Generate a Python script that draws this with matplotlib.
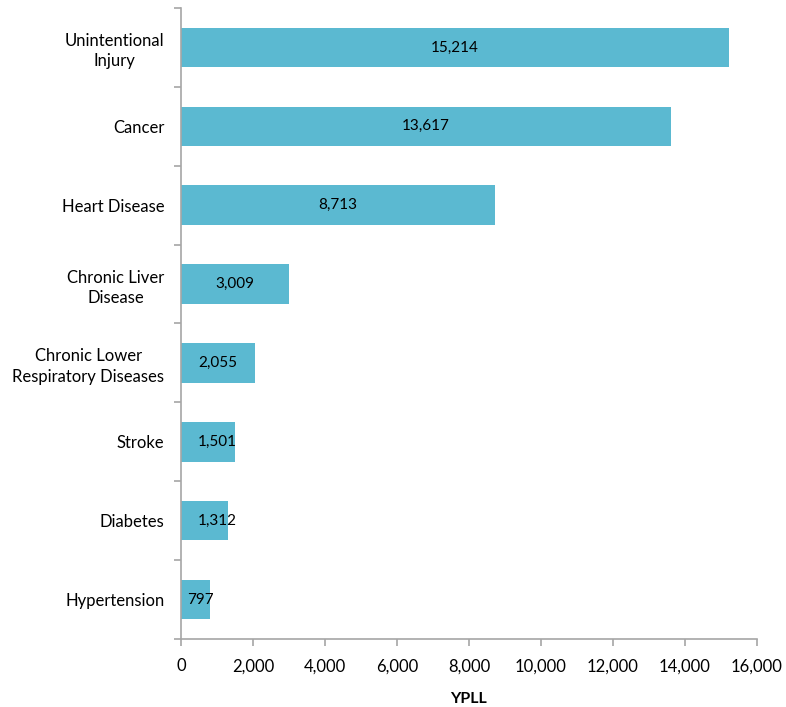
import matplotlib
matplotlib.use("Agg")
import matplotlib.pyplot as plt
import numpy as np
from matplotlib.ticker import FuncFormatter, FixedLocator

# Years of potential life lost by leading cause of death
CAUSES = [
    "Unintentional\nInjury",
    "Cancer",
    "Heart Disease",
    "Chronic Liver\nDisease",
    "Chronic Lower\nRespiratory Diseases",
    "Stroke",
    "Diabetes",
    "Hypertension",
]
YPLL = [15214, 13617, 8713, 3009, 2055, 1501, 1312, 797]
X_TICKS = [0, 2000, 4000, 6000, 8000, 10000, 12000, 14000, 16000]

BAR_COLOR = "#5BB9D1"
AXIS_COLOR = "#A6A6A6"

plt.rcParams["font.family"] = ["Lato", "DejaVu Sans"]

fig = plt.figure(figsize=(7.86, 7.07), dpi=100)
ax = fig.add_axes([0.2303, 0.0962, 0.7327, 0.8925])

pos = np.arange(len(CAUSES))
ax.barh(pos, YPLL, height=0.5, color=BAR_COLOR, zorder=2)

# value labels centred in each bar, nudged right on the short ones
for y, v in zip(pos, YPLL):
    x = max(v / 2, min(v - 250, 1020))
    ax.text(x, y, f"{v:,}", ha="center", va="center", fontsize=11, color="black", zorder=3)

ax.set_ylim(len(CAUSES) - 0.5, -0.5)
ax.set_xlim(0, 16000)

ax.set_yticks(pos)
ax.set_yticklabels(CAUSES, fontsize=12, ha="right", multialignment="center", linespacing=1.35)
ax.tick_params(axis="y", which="major", length=0, pad=12)
ax.yaxis.set_minor_locator(FixedLocator(np.arange(-0.5, len(CAUSES), 1.0)))
ax.tick_params(axis="y", which="minor", length=5, color=AXIS_COLOR, width=1.2, direction="out")

ax.set_xticks(X_TICKS)
ax.xaxis.set_major_formatter(FuncFormatter(lambda v, _: f"{int(v):,}"))
ax.tick_params(axis="x", length=5, color=AXIS_COLOR, width=1.2, direction="out", labelsize=12, pad=9)
ax.set_xlabel("YPLL", fontsize=11.5, fontweight="bold", labelpad=13)

for side in ("top", "right"):
    ax.spines[side].set_visible(False)
for side in ("left", "bottom"):
    ax.spines[side].set_color(AXIS_COLOR)
    ax.spines[side].set_linewidth(1.2)

fig.savefig("out.png", dpi=100)
